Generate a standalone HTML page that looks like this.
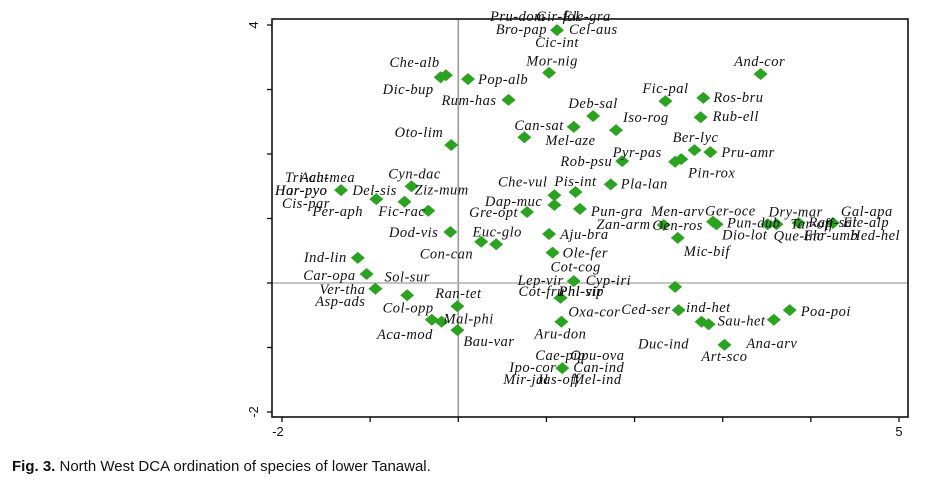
<!DOCTYPE html>
<html><head><meta charset="utf-8"><style>
body{margin:0;background:#fff;width:927px;height:487px;overflow:hidden}
svg{display:block}
.lb{font-family:"Liberation Serif",serif;font-style:italic;font-size:14.5px;letter-spacing:0.5px;fill:#111}
.tk{font-family:"Liberation Sans",sans-serif;font-size:13px;fill:#111}
</style></head><body>
<svg id="chart" width="927" height="487" viewBox="0 0 927 487">
<g id="axes"></g>
<g id="marks"></g>
<g id="labels"></g>
<text x="12" y="471" style="font-family:'Liberation Sans',sans-serif;font-size:15px;fill:#111"><tspan font-weight="bold">Fig. 3.</tspan> North West DCA ordination of species of lower Tanawal.</text>
</svg>
<script>
// data: axis 1 (x) and axis 2 (y) scores
const xs=[1.12,-0.20,-0.14,0.11,1.03,0.57,1.53,1.31,0.75,1.79,2.35,2.78,2.75,3.43,2.68,2.86,2.46,2.53,1.86,-0.08,1.73,1.33,1.09,1.09,0.78,1.38,2.33,2.89,-0.53,-1.33,-0.93,-0.61,-0.34,-0.09,0.26,0.43,1.03,1.07,1.31,1.16,1.17,1.18,-1.14,-1.04,-0.94,-0.58,-0.01,-0.30,-0.19,-0.01,2.46,2.50,2.76,2.84,3.58,3.76,3.02,2.49,2.93,3.51,3.61,3.86,4.25];
const ys=[3.92,3.19,3.22,3.16,3.26,2.84,2.59,2.42,2.26,2.37,2.82,2.87,2.57,3.24,2.06,2.03,1.88,1.92,1.89,2.14,1.53,1.41,1.36,1.21,1.10,1.15,0.90,0.95,1.50,1.44,1.30,1.26,1.12,0.79,0.64,0.60,0.76,0.47,0.03,-0.23,-0.60,-1.32,0.39,0.14,-0.09,-0.19,-0.36,-0.57,-0.60,-0.73,-0.06,-0.42,-0.60,-0.64,-0.57,-0.42,-0.96,0.70,0.91,0.91,0.91,0.93,0.93];
const xTickVals=[-2,-1,0,1,2,3,4,5];
const yTickVals=[-2,-1,0,1,2,3,4];
const xTickLabels={"-2":"-2","5":"5"};
const yTickLabels={"-2":"-2","4":"4"};
// labels: text, point index
const labelText=["Bro-pap","Cel-aus","Cic-int","Pru-dom","Gir-fol","Ele-gra","Che-alb","Dic-bup","Pop-alb","Mor-nig","Rum-has","Deb-sal","Can-sat","Mel-aze","Iso-rog","Fic-pal","Ros-bru","Rub-ell","And-cor","Ber-lyc","Pru-amr","Pin-rox","Pyr-pas","Rob-psu","Oto-lim","Pla-lan","Pis-int","Che-vul","Dap-muc","Gre-opt","Pun-gra","Oen-ros","Zan-arm","Men-arv","Ger-oce","Pun-dub","Dio-lot","Cyn-dac","Tri-aut","Ach-mea","Har-pyo","Hor-pyo","Cis-par","Del-sis","Ziz-mum","Fic-rac","Per-aph","Dod-vis","Euc-glo","Con-can","Aju-bra","Ole-fer","Cot-cog","Lep-vir","Cyp-iri","Cot-fru","Phl-sip","Phl-vir","Oxa-cor","Aru-don","Cae-pip","Opu-ova","Ipo-cor","Can-ind","Mir-jal","Jas-off","Mel-ind","Ind-lin","Car-opa","Ver-tha","Asp-ads","Sol-sur","Col-opp","Ran-tet","Aca-mod","Mal-phi","Bau-var","ind-het","Ced-ser","Duc-ind","Sau-het","Ana-arv","Poa-poi","Art-sco","Mic-bif","Que-inc","Dry-mar","Tar-off","Rap-sat","Ehr-umb","Gal-apa","Ele-alp","Hed-hel"];
const labelPoint=[0,0,0,0,0,0,1,1,3,4,5,6,7,8,9,10,11,12,13,14,15,16,18,18,19,20,21,22,23,24,25,26,26,26,27,27,27,28,29,29,29,29,29,30,31,32,32,33,34,34,36,37,37,38,38,39,39,39,40,40,41,41,41,41,41,41,41,42,43,44,44,45,45,46,47,48,49,50,51,52,53,54,55,56,57,59,59,60,61,61,62,62,62];
// label placement offsets (px) and anchors
const labelDX=[-10,12,0,-67,-21,6,-1,-7,10,3,-12,0,-10,21,7,0,10,12,-1,1,11,13,15,-10,-8,10,0,-7,-12,-9,11,14,-13,14,-8,14,9,3,-56,-41,-66,-66,-59,-24,10,-3,-116,-12,16,-8,11,10,23,-10,12,-42,-2,-2,7,-1,-27,8,-6,11,-59,-26,10,-11,-11,-10,-10,0,1,1,1,2,6,11,-8,-38,9,-2,11,0,6,6,28,14,10,5,8,10,17];
const labelDY=[0,0,13,-13,-13,-13,-14,13,1,-11,1,-12,-1,4,-12,-12,0,0,-12,-12,1,12,-8,1,-12,0,-10,-13,-3,1,3,1,0,-13,-10,2,14,-12,-12,-12,1,1,14,-8,-11,1,1,1,-9,13,1,1,15,0,0,-6,-6,-6,-9,13,-12,-12,0,0,12,12,12,0,2,1,13,-18,13,-12,15,-2,12,21,0,23,-3,24,2,12,14,12,-12,0,0,13,-11,0,13];
const labelAnchor=["e","s","m","s","s","s","e","e","s","m","e","m","e","s","s","m","s","s","m","m","s","s","m","e","e","s","m","e","e","e","s","m","e","m","s","s","s","m","s","s","s","s","s","s","s","e","s","e","m","e","s","s","m","e","s","s","s","s","s","m","s","s","e","s","s","s","s","e","e","e","e","m","m","m","e","s","s","s","e","m","s","m","s","m","s","s","m","s","s","s","s","s","s"];
const X0=282,X1=899,Y0=412,Y1=25;
function sx(v){return X0+(v+2)*(X1-X0)/7;}
function sy(v){return Y0-(v+2)*(Y0-Y1)/6;}
const NS="http://www.w3.org/2000/svg";
function mk(t,a,p){const e=document.createElementNS(NS,t);for(const k in a)e.setAttribute(k,a[k]);p.appendChild(e);return e;}
const ax=document.getElementById('axes');
let zl=mk('line',{x1:sx(0),x2:sx(0),y1:19,y2:417,stroke:'#9a9a9a','stroke-width':1.6},ax);


let zh=mk('line',{x1:272,x2:908,y1:sy(0),y2:sy(0),stroke:'#b0b0b0','stroke-width':1.6},ax);


let fr=mk('rect',{x:272,y:19,width:636,height:398,fill:'none',stroke:'#111','stroke-width':1.6},ax);


xTickVals.forEach(v=>{
  let t=mk('line',{x1:sx(v),x2:sx(v),y1:417,y2:422,stroke:'#111','stroke-width':1.3},ax);
  
  
  if(xTickLabels[v]){let l=mk('text',{x:sx(v)+(v<0?-4:0),y:436,'text-anchor':'middle',class:'tk'},ax);l.textContent=xTickLabels[v];
  
  }
});
yTickVals.forEach(v=>{
  let t=mk('line',{x1:267,x2:272,y1:sy(v),y2:sy(v),stroke:'#111','stroke-width':1.3},ax);
  
  
  if(yTickLabels[v]){let l=mk('text',{x:0,y:0,'text-anchor':'middle',class:'tk',transform:`translate(258,${sy(v)}) rotate(-90)`},ax);l.textContent=yTickLabels[v];
  
  }
});
const mg=document.getElementById('marks');
xs.forEach((v,i)=>{
  const cx=sx(v),cy=sy(ys[i]);
  let p=mk('polygon',{points:`${cx-7},${cy} ${cx},${cy-6} ${cx+7},${cy} ${cx},${cy+6}`,fill:'#2ba321'},mg);
  
  
});
const lg=document.getElementById('labels');
labelText.forEach((s,i)=>{
  const pi=labelPoint[i];const a=labelAnchor[i];
  let t=mk('text',{x:sx(xs[pi])+labelDX[i],y:sy(ys[pi])+labelDY[i]+4,'text-anchor':a==='s'?'start':a==='e'?'end':'middle',class:'lb'},lg);
  t.textContent=s;
  
  
});
</script>
</body></html>
